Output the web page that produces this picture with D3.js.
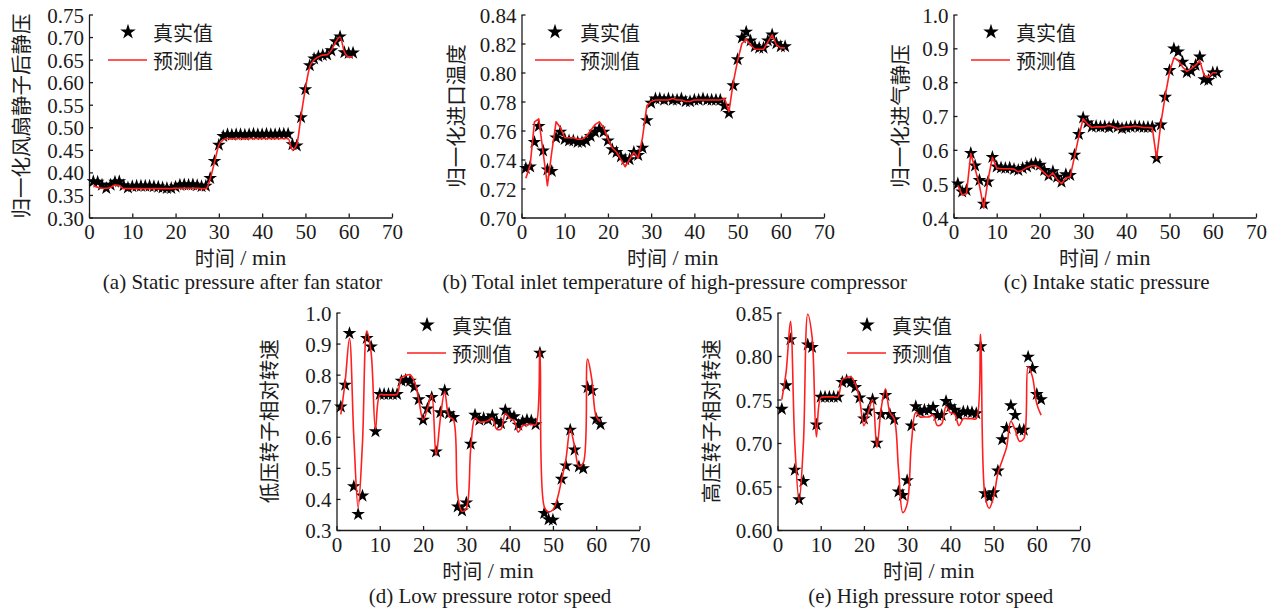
<!DOCTYPE html>
<html>
<head>
<meta charset="utf-8">
<script src="https://cdn.jsdelivr.net/npm/d3@7"></script>
<style>
  html, body { margin: 0; padding: 0; background: #ffffff; }
  svg { display: block; }
  .tick text { font-family: "Liberation Serif", "Times New Roman", serif; }
</style>
</head>
<body>
<svg id="chart" width="1276" height="608"></svg>
<script>
// Sampling instants (minutes)
const minutes = [1,2,3,4,5,6,7,8,9,10,11,12,13,14,15,16,17,18,19,20,21,22,23,24,25,26,27,28,29,30,
  31,32,33,34,35,36,37,38,39,40,41,42,43,44,45,46,47,48,49,50,51,52,53,54,55,56,57,58,59,60,61];

const xTicks = [0, 10, 20, 30, 40, 50, 60, 70];

// (a) static pressure after fan stator
const fanStatorActual = [0.380,0.379,0.372,0.365,0.372,0.379,0.380,0.371,0.366,0.369,
  0.370,0.370,0.370,0.370,0.369,0.368,0.366,0.365,0.365,0.368,
  0.372,0.373,0.372,0.373,0.371,0.369,0.370,0.387,0.425,0.461,
  0.480,0.484,0.483,0.484,0.484,0.483,0.484,0.485,0.484,0.484,
  0.485,0.484,0.484,0.485,0.485,0.485,0.462,0.459,0.522,0.584,
  0.637,0.652,0.657,0.660,0.661,0.670,0.690,0.701,0.666,0.664,0.665];
const fanStatorPred = [0.371,0.367,0.365,0.365,0.367,0.372,0.371,0.364,0.364,0.364,
  0.364,0.364,0.364,0.364,0.364,0.364,0.364,0.364,0.364,0.365,
  0.365,0.365,0.365,0.365,0.365,0.364,0.364,0.386,0.423,0.460,
  0.472,0.475,0.475,0.475,0.475,0.475,0.475,0.475,0.475,0.475,
  0.475,0.475,0.475,0.475,0.475,0.475,0.450,0.462,0.526,0.586,
  0.634,0.649,0.656,0.660,0.661,0.671,0.689,0.700,0.667,0.656,0.656];
const fanStatorTicks = [0.30,0.35,0.40,0.45,0.50,0.55,0.60,0.65,0.70,0.75];

// (b) total inlet temperature of high-pressure compressor
const hpcTempActual = [0.734,0.735,0.752,0.763,0.746,0.733,0.732,0.755,0.759,0.754,
  0.753,0.753,0.752,0.752,0.753,0.756,0.759,0.761,0.759,0.753,
  0.747,0.745,0.742,0.740,0.740,0.745,0.743,0.748,0.767,0.779,
  0.782,0.782,0.781,0.782,0.781,0.781,0.782,0.780,0.780,0.781,
  0.781,0.782,0.781,0.781,0.781,0.781,0.777,0.772,0.791,0.809,
  0.824,0.828,0.822,0.818,0.817,0.817,0.822,0.826,0.820,0.818,0.818];
const hpcTempPred = [0.727,0.736,0.766,0.768,0.745,0.722,0.745,0.766,0.762,0.755,
  0.755,0.755,0.754,0.754,0.756,0.760,0.764,0.766,0.762,0.754,
  0.748,0.745,0.740,0.735,0.740,0.745,0.741,0.755,0.777,0.780,
  0.781,0.781,0.781,0.781,0.782,0.781,0.781,0.780,0.780,0.781,
  0.781,0.781,0.781,0.781,0.781,0.781,0.782,0.773,0.793,0.808,
  0.820,0.823,0.819,0.816,0.816,0.816,0.821,0.826,0.819,0.817,0.817];
const hpcTempTicks = [0.70,0.72,0.74,0.76,0.78,0.80,0.82,0.84];

// (c) intake static pressure
const intakeActual = [0.500,0.476,0.481,0.590,0.553,0.510,0.440,0.506,0.578,0.550,
  0.547,0.546,0.547,0.543,0.540,0.546,0.550,0.557,0.560,0.555,
  0.540,0.524,0.536,0.520,0.505,0.527,0.525,0.585,0.646,0.695,
  0.680,0.668,0.670,0.668,0.669,0.666,0.672,0.668,0.663,0.666,
  0.668,0.670,0.668,0.667,0.667,0.668,0.575,0.674,0.756,0.835,
  0.899,0.890,0.860,0.829,0.833,0.850,0.875,0.808,0.806,0.828,0.829];
const intakePred = [0.495,0.467,0.470,0.589,0.544,0.495,0.428,0.512,0.578,0.546,
  0.544,0.544,0.544,0.543,0.535,0.540,0.548,0.553,0.553,0.545,
  0.532,0.520,0.532,0.512,0.500,0.517,0.520,0.580,0.640,0.692,
  0.676,0.666,0.668,0.668,0.668,0.672,0.668,0.663,0.666,0.668,
  0.668,0.670,0.668,0.666,0.666,0.665,0.574,0.680,0.760,0.830,
  0.872,0.865,0.845,0.832,0.840,0.850,0.863,0.820,0.815,0.828,0.828];
const intakeTicks = [0.4,0.5,0.6,0.7,0.8,0.9,1.0];

// (d) low pressure rotor speed
const lpSpeedActual = [0.697,0.767,0.933,0.440,0.351,0.410,0.917,0.890,0.617,0.737,
  0.737,0.737,0.737,0.737,0.780,0.783,0.780,0.760,0.720,0.654,
  0.690,0.727,0.552,0.678,0.749,0.675,0.663,0.375,0.362,0.388,
  0.577,0.670,0.654,0.660,0.655,0.668,0.650,0.643,0.686,0.670,
  0.665,0.638,0.649,0.654,0.652,0.640,0.870,0.354,0.334,0.332,
  0.380,0.464,0.507,0.622,0.558,0.504,0.498,0.759,0.749,0.657,0.640];
const lpSpeedPred = [0.672,0.778,0.917,0.600,0.372,0.580,0.940,0.870,0.625,0.735,
  0.735,0.735,0.735,0.737,0.790,0.797,0.800,0.778,0.720,0.655,
  0.690,0.735,0.540,0.660,0.745,0.665,0.655,0.410,0.360,0.370,
  0.560,0.660,0.648,0.648,0.652,0.660,0.625,0.625,0.675,0.660,
  0.652,0.615,0.635,0.640,0.640,0.638,0.880,0.375,0.358,0.365,
  0.400,0.462,0.528,0.625,0.568,0.505,0.515,0.850,0.783,0.665,0.649];
const lpSpeedTicks = [0.3,0.4,0.5,0.6,0.7,0.8,0.9,1.0];

// (e) high pressure rotor speed
const hpSpeedActual = [0.739,0.766,0.819,0.669,0.635,0.656,0.813,0.810,0.721,0.753,
  0.753,0.753,0.753,0.753,0.770,0.772,0.770,0.764,0.752,0.728,
  0.737,0.750,0.700,0.733,0.755,0.733,0.727,0.644,0.640,0.657,
  0.720,0.742,0.736,0.738,0.738,0.741,0.732,0.732,0.748,0.742,
  0.738,0.732,0.736,0.736,0.735,0.734,0.811,0.642,0.638,0.643,
  0.668,0.704,0.717,0.743,0.732,0.715,0.715,0.799,0.786,0.756,0.750];
const hpSpeedPred = [0.750,0.782,0.840,0.700,0.633,0.700,0.848,0.822,0.707,0.752,
  0.753,0.753,0.753,0.753,0.773,0.775,0.776,0.768,0.750,0.720,
  0.735,0.750,0.695,0.740,0.762,0.735,0.728,0.670,0.620,0.630,
  0.700,0.735,0.730,0.730,0.730,0.732,0.720,0.722,0.742,0.735,
  0.733,0.720,0.728,0.728,0.728,0.728,0.825,0.640,0.625,0.638,
  0.665,0.680,0.695,0.725,0.715,0.702,0.705,0.788,0.776,0.745,0.732];
const hpSpeedTicks = [0.60,0.65,0.70,0.75,0.80,0.85];

const legendNames = ["真实值", "预测值"];

// Panel layout: plot box, labels and legend anchors
const panels = [
  { actual: fanStatorActual, pred: fanStatorPred, ticks: fanStatorTicks, fmt: ".2f",
    curve: d3.curveMonotoneX, ylabel: "归一化风扇静子后静压",
    caption: "(a) Static pressure after fan stator",
    left: 89, right: 392, top: 14.5, bottom: 217.5, ylabelX: 20, titleY: 257, captionY: 282,
    legX: 128, legY: 32 },
  { actual: hpcTempActual, pred: hpcTempPred, ticks: hpcTempTicks, fmt: ".2f",
    curve: d3.curveLinear, ylabel: "归一化进口温度",
    caption: "(b) Total inlet temperature of high-pressure compressor",
    left: 521.5, right: 824, top: 14.5, bottom: 217.5, ylabelX: 455, titleY: 257, captionY: 282,
    legX: 555, legY: 32 },
  { actual: intakeActual, pred: intakePred, ticks: intakeTicks, fmt: ".1f",
    curve: d3.curveLinear, ylabel: "归一化进气静压",
    caption: "(c) Intake static pressure",
    left: 953.5, right: 1256, top: 14.5, bottom: 217.5, ylabelX: 899, titleY: 257, captionY: 282,
    legX: 991, legY: 32 },
  { actual: lpSpeedActual, pred: lpSpeedPred, ticks: lpSpeedTicks, fmt: ".1f",
    curve: d3.curveCatmullRom.alpha(0.5), ylabel: "低压转子相对转速",
    caption: "(d) Low pressure rotor speed",
    left: 336.5, right: 639.5, top: 312.5, bottom: 530, ylabelX: 268, titleY: 570, captionY: 596,
    legX: 427, legY: 325 },
  { actual: hpSpeedActual, pred: hpSpeedPred, ticks: hpSpeedTicks, fmt: ".2f",
    curve: d3.curveCatmullRom.alpha(0.5), ylabel: "高压转子相对转速",
    caption: "(e) High pressure rotor speed",
    left: 777.5, right: 1080, top: 312.5, bottom: 530, ylabelX: 710, titleY: 570, captionY: 596,
    legX: 867, legY: 325 }
];

const svg = d3.select("#chart");
const ink = "#1b1b1b";
const red = "#ff1f1f";
const cjk = "'Noto Sans CJK SC', 'Noto Sans', sans-serif";
const serif = "'Liberation Serif', 'Times New Roman', serif";
const star = d3.symbol().type(d3.symbolStar).size(58);

panels.forEach(p => {
  const x = d3.scaleLinear().domain([0, 70]).range([p.left, p.right]);
  const y = d3.scaleLinear().domain([p.ticks[0], p.ticks[p.ticks.length - 1]]).range([p.bottom, p.top]);
  const g = svg.append("g");

  // axes with inward ticks
  const xAxis = d3.axisBottom(x).tickValues(xTicks).tickFormat(d3.format("d"))
    .tickSizeInner(-4).tickSizeOuter(0).tickPadding(7);
  const yAxis = d3.axisLeft(y).tickValues(p.ticks).tickFormat(d3.format(p.fmt))
    .tickSizeInner(-4).tickSizeOuter(0).tickPadding(5);

  const gx = g.append("g").attr("transform", `translate(0,${p.bottom})`).call(xAxis);
  const gy = g.append("g").attr("transform", `translate(${p.left},0)`).call(yAxis);
  [gx, gy].forEach(a => {
    a.select(".domain").attr("stroke", ink).attr("stroke-width", 1.3);
    a.selectAll(".tick line").attr("stroke", ink).attr("stroke-width", 1.3);
    a.selectAll(".tick text").attr("fill", ink).style("font-size", "21px").style("font-family", serif);
  });
  gy.selectAll(".tick text").attr("dy", "0.36em");

  // measured values as stars
  g.append("g").selectAll("path")
    .data(p.actual)
    .join("path")
    .attr("d", star)
    .attr("transform", (d, i) => `translate(${x(minutes[i])},${y(d)})`)
    .attr("fill", "#000");

  // predicted values as a red line
  const line = d3.line()
    .x((d, i) => x(minutes[i]))
    .y(d => y(d))
    .curve(p.curve);
  g.append("path")
    .datum(p.pred)
    .attr("d", line)
    .attr("fill", "none")
    .attr("stroke", red)
    .attr("stroke-width", 1.6)
    .attr("stroke-linejoin", "round");

  // y axis title
  g.append("text")
    .attr("transform", `translate(${p.ylabelX},${(p.top + p.bottom) / 2}) rotate(-90)`)
    .attr("text-anchor", "middle")
    .attr("dominant-baseline", "central")
    .attr("fill", ink)
    .style("font-family", cjk)
    .style("font-size", "20.5px")
    .text(p.ylabel);

  // x axis title
  const xt = g.append("text")
    .attr("x", (p.left + p.right) / 2)
    .attr("y", p.titleY)
    .attr("text-anchor", "middle")
    .attr("dominant-baseline", "central")
    .attr("fill", ink);
  xt.append("tspan").style("font-family", cjk).style("font-size", "20px").text("时间");
  xt.append("tspan").style("font-family", serif).style("font-size", "22px").text(" / min");

  // caption
  g.append("text")
    .attr("x", (p.left + p.right) / 2 + 2)
    .attr("y", p.captionY)
    .attr("text-anchor", "middle")
    .attr("dominant-baseline", "central")
    .attr("fill", ink)
    .style("font-family", serif)
    .style("font-size", "21px")
    .text(p.caption);

  // legend
  const lg = g.append("g").attr("transform", `translate(${p.legX},${p.legY})`);
  lg.append("path").attr("d", d3.symbol().type(d3.symbolStar).size(75)).attr("fill", "#000");
  lg.append("line").attr("x1", -20).attr("x2", 19).attr("y1", 28).attr("y2", 28)
    .attr("stroke", red).attr("stroke-width", 1.6);
  legendNames.forEach((name, i) => {
    lg.append("text")
      .attr("x", 25)
      .attr("y", i * 28)
      .attr("dominant-baseline", "central")
      .attr("fill", ink)
      .style("font-family", cjk)
      .style("font-size", "20px")
      .text(name);
  });
});
</script>
</body>
</html>
